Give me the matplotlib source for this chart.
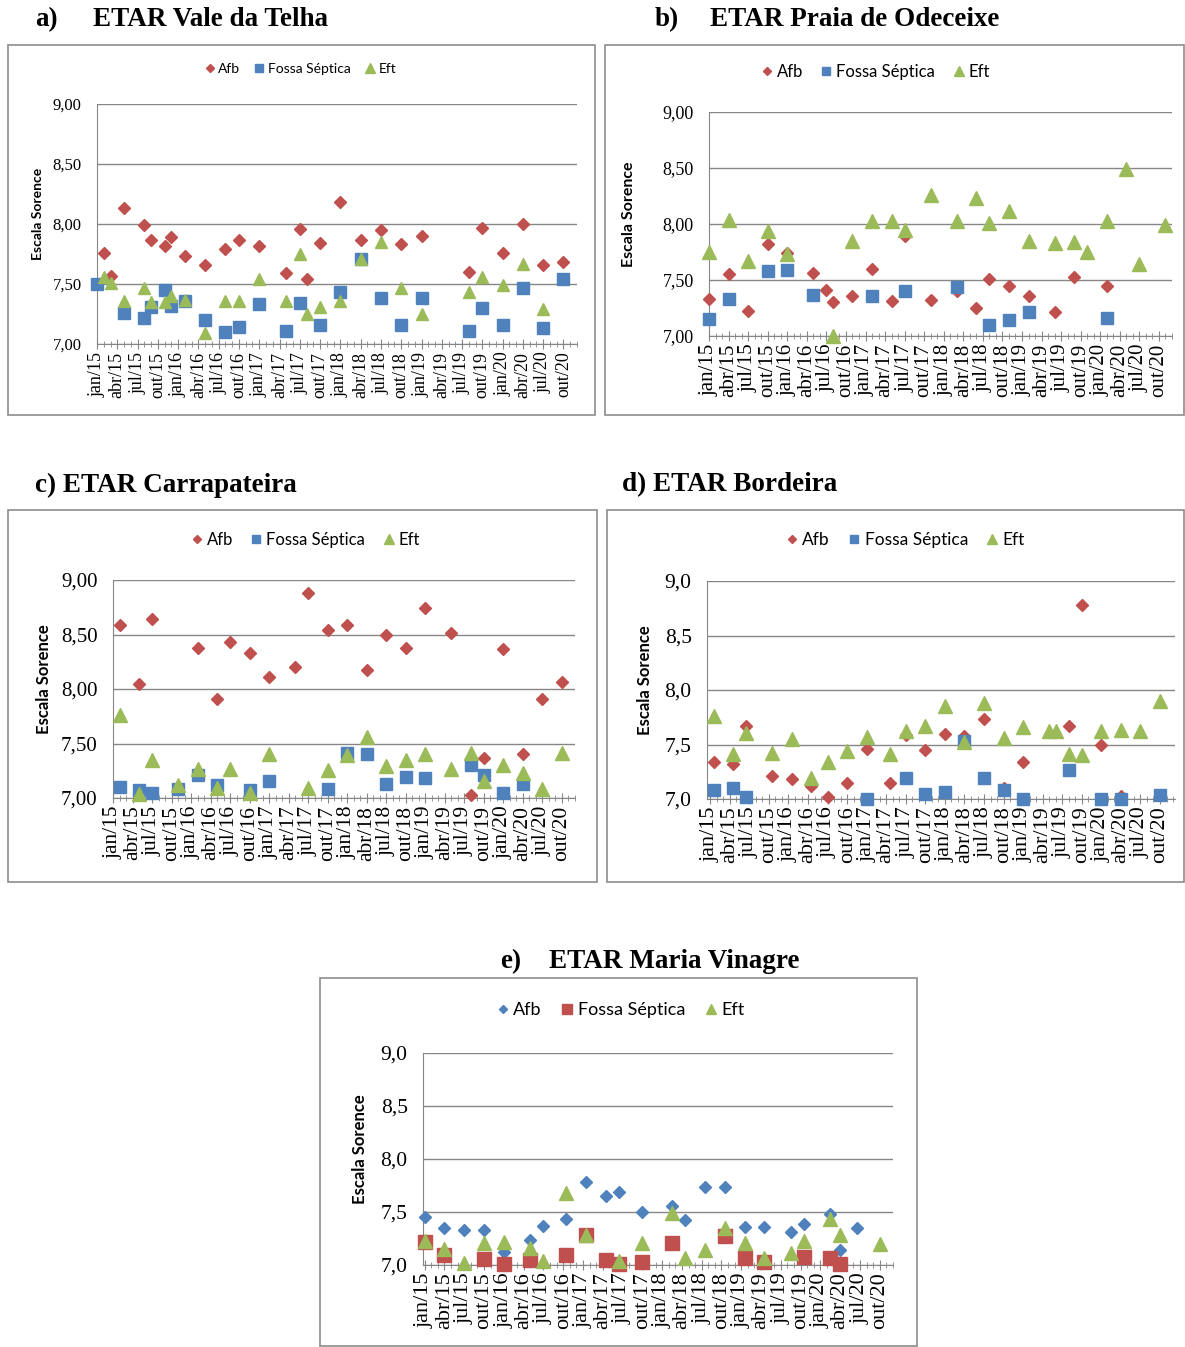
import matplotlib
matplotlib.use("Agg")
import matplotlib.pyplot as plt
from matplotlib.patches import Rectangle
from matplotlib.ticker import FuncFormatter, MultipleLocator

# months counted from jan/2015 (0 = jan/15)
# a) ETAR Vale da Telha
a_afb_m = [1, 2, 4, 7, 8, 10, 11, 13, 16, 19, 21, 24, 28, 30, 31, 33, 36, 39, 42, 45, 48, 55, 57, 60, 63, 66, 69]
a_afb_v = [7.76, 7.57, 8.13, 7.99, 7.87, 7.82, 7.89, 7.73, 7.66, 7.79, 7.87, 7.82, 7.59, 7.96, 7.54, 7.84,
           8.18, 7.87, 7.95, 7.83, 7.90, 7.60, 7.97, 7.76, 8.00, 7.66, 7.68]
a_fos_m = [0, 4, 7, 8, 10, 11, 13, 16, 19, 21, 24, 28, 30, 33, 36, 39, 42, 45, 48, 55, 57, 60, 63, 66, 69]
a_fos_v = [7.50, 7.26, 7.22, 7.31, 7.45, 7.32, 7.36, 7.20, 7.10, 7.14, 7.33, 7.11, 7.34, 7.16, 7.43, 7.71,
           7.38, 7.16, 7.38, 7.11, 7.30, 7.16, 7.47, 7.13, 7.54]
a_eft_m = [1, 2, 4, 7, 8, 10, 11, 13, 16, 19, 21, 24, 28, 30, 31, 33, 36, 39, 42, 45, 48, 55, 57, 60, 63, 66]
a_eft_v = [7.56, 7.51, 7.36, 7.47, 7.35, 7.35, 7.40, 7.37, 7.09, 7.36, 7.36, 7.54, 7.36, 7.75, 7.25, 7.31,
           7.36, 7.71, 7.85, 7.47, 7.25, 7.43, 7.56, 7.49, 7.67, 7.29]

# b) ETAR Praia de Odeceixe
b_afb_m = [0, 3, 6, 9, 12, 16, 18, 19, 22, 25, 28, 30, 34, 38, 41, 43, 46, 49, 53, 56, 61]
b_afb_v = [7.33, 7.55, 7.22, 7.82, 7.74, 7.56, 7.41, 7.30, 7.36, 7.60, 7.31, 7.89, 7.32, 7.40, 7.25, 7.51,
           7.45, 7.36, 7.21, 7.53, 7.45]
b_fos_m = [0, 3, 9, 12, 16, 25, 30, 38, 43, 46, 49, 61]
b_fos_v = [7.15, 7.33, 7.58, 7.59, 7.37, 7.36, 7.40, 7.44, 7.10, 7.14, 7.21, 7.16]
b_eft_m = [0, 3, 6, 9, 12, 19, 22, 25, 28, 30, 34, 38, 41, 43, 46, 49, 53, 56, 58, 61, 64, 66, 70]
b_eft_v = [7.75, 8.04, 7.67, 7.94, 7.73, 7.00, 7.85, 8.03, 8.03, 7.95, 8.26, 8.03, 8.23, 8.01, 8.12, 7.85,
           7.83, 7.84, 7.75, 8.03, 8.49, 7.64, 7.99]

# c) ETAR Carrapateira
c_afb_m = [1, 4, 6, 13, 16, 18, 21, 24, 28, 30, 33, 36, 39, 42, 45, 48, 52, 55, 57, 60, 63, 66, 69]
c_afb_v = [8.59, 8.05, 8.64, 8.38, 7.91, 8.43, 8.33, 8.11, 8.20, 8.88, 8.54, 8.59, 8.17, 8.50, 8.38, 8.74,
           8.51, 7.03, 7.37, 8.37, 7.40, 7.91, 8.06]
c_fos_m = [1, 4, 6, 10, 13, 16, 21, 24, 33, 36, 39, 42, 45, 48, 55, 57, 60, 63]
c_fos_v = [7.10, 7.07, 7.05, 7.08, 7.21, 7.12, 7.07, 7.16, 7.08, 7.41, 7.40, 7.13, 7.19, 7.18, 7.30, 7.21,
           7.05, 7.13]
c_eft_m = [1, 4, 6, 10, 13, 16, 18, 21, 24, 30, 33, 36, 39, 42, 45, 48, 52, 55, 57, 60, 63, 66, 69]
c_eft_v = [7.76, 7.04, 7.35, 7.12, 7.27, 7.09, 7.27, 7.05, 7.40, 7.09, 7.26, 7.39, 7.56, 7.29, 7.35, 7.40,
           7.27, 7.41, 7.16, 7.30, 7.23, 7.08, 7.41]

# d) ETAR Bordeira
d_afb_m = [0.5, 3.5, 5.5, 9.5, 12.5, 15.5, 18, 21, 24, 27.5, 30, 33, 36, 39, 42, 45, 48, 55, 57, 60, 63]
d_afb_v = [7.34, 7.32, 7.67, 7.21, 7.18, 7.12, 7.02, 7.15, 7.46, 7.15, 7.59, 7.45, 7.60, 7.58, 7.73, 7.10,
           7.34, 7.67, 8.78, 7.50, 7.03]
d_fos_m = [0.5, 3.5, 5.5, 24, 30, 33, 36, 39, 42, 45, 48, 55, 60, 63, 69]
d_fos_v = [7.08, 7.10, 7.02, 7.00, 7.19, 7.05, 7.06, 7.53, 7.19, 7.08, 7.00, 7.27, 7.00, 7.00, 7.04]
d_eft_m = [0.5, 3.5, 5.5, 9.5, 12.5, 15.5, 18, 21, 24, 27.5, 30, 33, 36, 39, 42, 45, 48, 52, 53, 55, 57,
           60, 63, 66, 69]
d_eft_v = [7.76, 7.41, 7.61, 7.42, 7.55, 7.19, 7.34, 7.44, 7.57, 7.41, 7.62, 7.67, 7.85, 7.52, 7.88, 7.56,
           7.66, 7.62, 7.62, 7.41, 7.40, 7.62, 7.63, 7.62, 7.90]

# e) ETAR Maria Vinagre
e_afb_m = [0, 3, 6, 9, 12, 16, 18, 21.5, 24.5, 27.5, 29.5, 33, 37.5, 39.5, 42.5, 45.5, 48.5, 51.5, 55.5,
           57.5, 61.5, 63, 65.5]
e_afb_v = [7.45, 7.35, 7.33, 7.33, 7.12, 7.24, 7.37, 7.43, 7.78, 7.65, 7.69, 7.50, 7.56, 7.42, 7.74, 7.74,
           7.36, 7.36, 7.31, 7.39, 7.48, 7.14, 7.35]
e_fos_m = [0, 3, 9, 12, 16, 21.5, 24.5, 27.5, 29.5, 33, 37.5, 45.5, 48.5, 51.5, 57.5, 61.5, 63]
e_fos_v = [7.22, 7.09, 7.06, 7.01, 7.05, 7.09, 7.28, 7.05, 7.01, 7.03, 7.21, 7.27, 7.07, 7.03, 7.08, 7.07,
           7.01]
e_eft_m = [0, 3, 6, 9, 12, 16, 18, 21.5, 24.5, 29.5, 33, 37.5, 39.5, 42.5, 45.5, 48.5, 51.5, 55.5, 57.5,
           61.5, 63, 69]
e_eft_v = [7.23, 7.15, 7.02, 7.21, 7.22, 7.16, 7.04, 7.68, 7.28, 7.04, 7.21, 7.49, 7.07, 7.14, 7.35, 7.21,
           7.07, 7.11, 7.23, 7.43, 7.28, 7.20]

month_names = ["jan", "abr", "jul", "out"]
tick_months = list(range(0, 72, 3))
tick_labels = [month_names[(m % 12) // 3] + "/" + str(15 + m // 12) for m in tick_months]
series_names = ["Afb", "Fossa Séptica", "Eft"]

RED = "#C0504D"
BLUE = "#4F81BD"
GREEN = "#9BBB59"
GRID = "#868686"
SERIF = "Liberation Serif"
SANS = "Lato"

W, H = 1185, 1347
fig = plt.figure(figsize=(W / 100, H / 100), dpi=100)


def fx(x):
    return x / W


def fy(y):
    return 1 - y / H


def panel(frame, box, xlim, data, colors, decimals, sizes, legend_xy, ylab_x):
    fig.patches.append(Rectangle((fx(frame[0]), fy(frame[3])), fx(frame[2] - frame[0]),
                                 (frame[3] - frame[1]) / H, transform=fig.transFigure,
                                 fill=False, edgecolor="#8c8c8c", lw=1.2))
    l, t, r, b = box
    ax = fig.add_axes([fx(l), fy(b), fx(r - l), (b - t) / H])
    tick_fs, ytick_fs, ylab_fs, leg_fs, ms = sizes
    markers = ["D", "s", "^"]
    msz = [ms * 0.68, ms, ms * 1.1]
    for (m, v), col, mk, sz, name in zip(data, colors, markers, msz, series_names):
        ax.plot(m, v, linestyle="none", marker=mk, ms=sz, color=col, mec=col,
                label=name, clip_on=False, zorder=3)
    ax.set_xlim(*xlim)
    ax.set_ylim(7, 9)
    ax.yaxis.set_major_locator(MultipleLocator(0.5))
    ax.yaxis.set_major_formatter(FuncFormatter(
        lambda v, p: f"{v:.{decimals}f}".replace(".", ",")))
    ax.grid(axis="y", color=GRID, lw=1)
    ax.set_axisbelow(True)
    ax.set_xticks(tick_months)
    ax.set_xticklabels(tick_labels, rotation=90, fontfamily=SERIF, fontsize=tick_fs)
    ax.set_xticks(range(0, 72), minor=True)
    ax.tick_params(axis="x", which="major", direction="inout", length=7, color=GRID, pad=2)
    ax.tick_params(axis="x", which="minor", direction="inout", length=4, color=GRID)
    ax.tick_params(axis="y", length=0, pad=11)
    for lab in ax.get_yticklabels():
        lab.set_fontfamily(SERIF)
        lab.set_fontsize(ytick_fs)
    for s in ["top", "right"]:
        ax.spines[s].set_visible(False)
    for s in ["left", "bottom"]:
        ax.spines[s].set_color(GRID)
    fig.text(fx(ylab_x), fy((t + b) / 2 - 10), "Escala Sorence", rotation=90, fontfamily=SANS,
             fontweight="bold", fontsize=ylab_fs, ha="center", va="center")
    ax.legend(loc="center", bbox_to_anchor=(fx(legend_xy[0]), fy(legend_xy[1])),
              bbox_transform=fig.transFigure, ncol=3, frameon=False, markerscale=0.7,
              handlelength=0.8, handletextpad=0.2, columnspacing=1.0,
              prop={"family": SANS, "size": leg_fs})
    return ax


def title(x, y, text, size=19.5):
    fig.text(fx(x), fy(y), text, fontfamily=SERIF, fontweight="bold", fontsize=size,
             ha="left", va="center")


std = [RED, BLUE, GREEN]

panel((8, 45, 595, 415), (97, 104, 577, 344), (0, 70.8),
      [(a_afb_m, a_afb_v), (a_fos_m, a_fos_v), (a_eft_m, a_eft_v)], std, 2,
      (13, 12, 10, 10, 8.5), (300, 69), 38)
panel((605, 45, 1184, 415), (709, 112, 1172, 336), (0, 70.7),
      [(b_afb_m, b_afb_v), (b_fos_m, b_fos_v), (b_eft_m, b_eft_v)], std, 2,
      (15, 13, 11.5, 12, 8.8), (875, 72), 629)
panel((8, 510, 597, 882), (113, 580, 575, 798), (0, 71),
      [(c_afb_m, c_afb_v), (c_fos_m, c_fos_v), (c_eft_m, c_eft_v)], std, 2,
      (15.5, 15, 12, 12, 9), (305, 540), 44)
panel((607, 510, 1184, 882), (707, 581, 1175, 799), (-0.5, 71.3),
      [(d_afb_m, d_afb_v), (d_fos_m, d_fos_v), (d_eft_m, d_eft_v)], std, 1,
      (16, 15.5, 12, 12.5, 9), (905, 540), 645)
panel((320, 978, 917, 1346), (423, 1053, 893, 1265), (-0.25, 70.2),
      [(e_afb_m, e_afb_v), (e_fos_m, e_fos_v), (e_eft_m, e_eft_v)], [BLUE, RED, GREEN], 1,
      (16, 15.5, 12, 13, 9.5), (620, 1010), 360)

title(35, 20, "a)")
title(93, 20, "ETAR Vale da Telha")
title(655, 20, "b)")
title(710, 20, "ETAR Praia de Odeceixe")
title(35, 485, "c) ETAR Carrapateira")
title(622, 485, "d) ETAR Bordeira")
title(500, 962, "e)")
title(549, 962, "ETAR Maria Vinagre")

fig.savefig("out.png", dpi=100)
